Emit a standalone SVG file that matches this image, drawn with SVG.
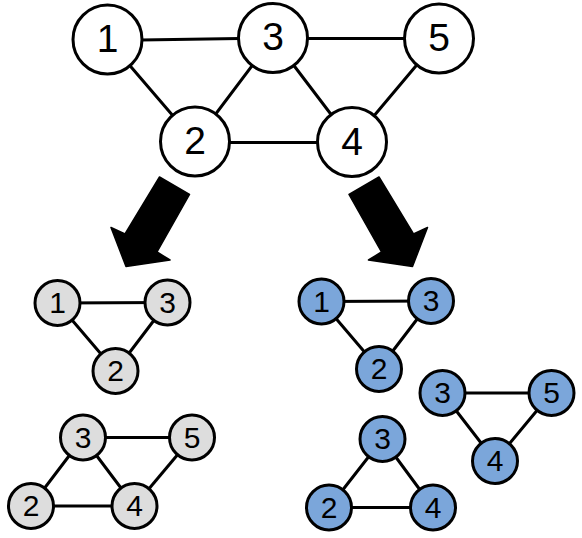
<svg xmlns="http://www.w3.org/2000/svg" width="582" height="538" viewBox="0 0 582 538">
<style>
.e{stroke:#000;stroke-width:3;fill:none;stroke-linecap:round}
.big circle{fill:#fff;stroke:#000;stroke-width:3}
.grey circle{fill:#dddddd;stroke:#000;stroke-width:3}
.blue circle{fill:#7ba6da;stroke:#000;stroke-width:3}
text{font-family:"Liberation Sans",Arial,sans-serif;text-anchor:middle;fill:#000}
.big text{font-size:39px}
.grey text,.blue text{font-size:30px}
.arrow{fill:#000;stroke:#000;stroke-width:1.5;stroke-linejoin:round}
</style>
<rect width="582" height="538" fill="#fff"/>
<g id="connectors">
<line class="e" x1="107.5" y1="40.5" x2="273" y2="38"/>
<line class="e" x1="273" y1="38.5" x2="439" y2="38.5"/>
<line class="e" x1="107.5" y1="39.5" x2="195" y2="141.5"/>
<line class="e" x1="273" y1="38" x2="195" y2="141.5"/>
<line class="e" x1="273" y1="38" x2="352" y2="142"/>
<line class="e" x1="439" y1="38.5" x2="352" y2="142"/>
<line class="e" x1="195" y1="142.5" x2="352" y2="142.5"/>
<line class="e" x1="57.5" y1="303" x2="167.5" y2="302.5"/>
<line class="e" x1="57.5" y1="303" x2="115.5" y2="371"/>
<line class="e" x1="167.5" y1="302.5" x2="115.5" y2="371"/>
<line class="e" x1="83" y1="437.5" x2="192" y2="437.5"/>
<line class="e" x1="83" y1="437.5" x2="31" y2="506"/>
<line class="e" x1="83" y1="437.5" x2="134.5" y2="506"/>
<line class="e" x1="192" y1="437.5" x2="134.5" y2="506"/>
<line class="e" x1="31" y1="506" x2="134.5" y2="506"/>
<line class="e" x1="321.5" y1="301.5" x2="431" y2="301"/>
<line class="e" x1="321.5" y1="301.5" x2="379" y2="369"/>
<line class="e" x1="431" y1="301" x2="379" y2="369"/>
<line class="e" x1="442.5" y1="393" x2="551.5" y2="393"/>
<line class="e" x1="442.5" y1="393" x2="495" y2="461"/>
<line class="e" x1="551.5" y1="393" x2="495" y2="461"/>
<line class="e" x1="382.5" y1="439" x2="329" y2="507.5"/>
<line class="e" x1="382.5" y1="439" x2="433" y2="507.5"/>
<line class="e" x1="329" y1="507.5" x2="433" y2="507.5"/>
</g>
<g id="arrows">
<polygon id="arrow-left" class="arrow" points="159.5,177 189.5,194.5 157,252 170,260 126,266.5 111,227.5 125,234"/>
<polygon id="arrow-right" class="arrow" points="379,177 349,194.5 381.5,252 368.5,260 412.5,266.5 427.5,227.5 413.5,234"/>
</g>
<g id="top" class="big">
<g id="t1"><circle cx="107.5" cy="39.5" r="34.5"/><text x="107.5" y="51.5">1</text></g>
<g id="t3"><circle cx="273" cy="38" r="34.5"/><text x="273" y="50">3</text></g>
<g id="t5"><circle cx="439" cy="38.5" r="34.5"/><text x="439" y="50.5">5</text></g>
<g id="t2"><circle cx="195" cy="141.5" r="34.5"/><text x="195" y="154">2</text></g>
<g id="t4"><circle cx="352" cy="142" r="34.5"/><text x="352" y="154.5">4</text></g>
</g>
<g id="left-a" class="grey">
<g id="la1"><circle cx="57.5" cy="303" r="22.5"/><text x="57.5" y="313">1</text></g>
<g id="la3"><circle cx="167.5" cy="302.5" r="22.5"/><text x="167.5" y="312.5">3</text></g>
<g id="la2"><circle cx="115.5" cy="371" r="22.5"/><text x="115.5" y="381">2</text></g>
</g>
<g id="left-b" class="grey">
<g id="lb3"><circle cx="83" cy="437.5" r="22.5"/><text x="83" y="447.5">3</text></g>
<g id="lb5"><circle cx="192" cy="437.5" r="22.5"/><text x="192" y="447.5">5</text></g>
<g id="lb2"><circle cx="31" cy="506" r="22.5"/><text x="31" y="516">2</text></g>
<g id="lb4"><circle cx="134.5" cy="506" r="22.5"/><text x="134.5" y="516">4</text></g>
</g>
<g id="right-a" class="blue">
<g id="ra1"><circle cx="321.5" cy="301.5" r="22.5"/><text x="321.5" y="311.5">1</text></g>
<g id="ra3"><circle cx="431" cy="301" r="22.5"/><text x="431" y="311">3</text></g>
<g id="ra2"><circle cx="379" cy="369" r="22.5"/><text x="379" y="379">2</text></g>
</g>
<g id="right-b" class="blue">
<g id="rb3"><circle cx="442.5" cy="393" r="22.5"/><text x="442.5" y="403">3</text></g>
<g id="rb5"><circle cx="551.5" cy="393" r="22.5"/><text x="551.5" y="403">5</text></g>
<g id="rb4"><circle cx="495" cy="461" r="22.5"/><text x="495" y="471">4</text></g>
</g>
<g id="right-c" class="blue">
<g id="rc3"><circle cx="382.5" cy="439" r="22.5"/><text x="382.5" y="449">3</text></g>
<g id="rc2"><circle cx="329" cy="507.5" r="22.5"/><text x="329" y="517.5">2</text></g>
<g id="rc4"><circle cx="433" cy="507.5" r="22.5"/><text x="433" y="517.5">4</text></g>
</g>
</svg>
